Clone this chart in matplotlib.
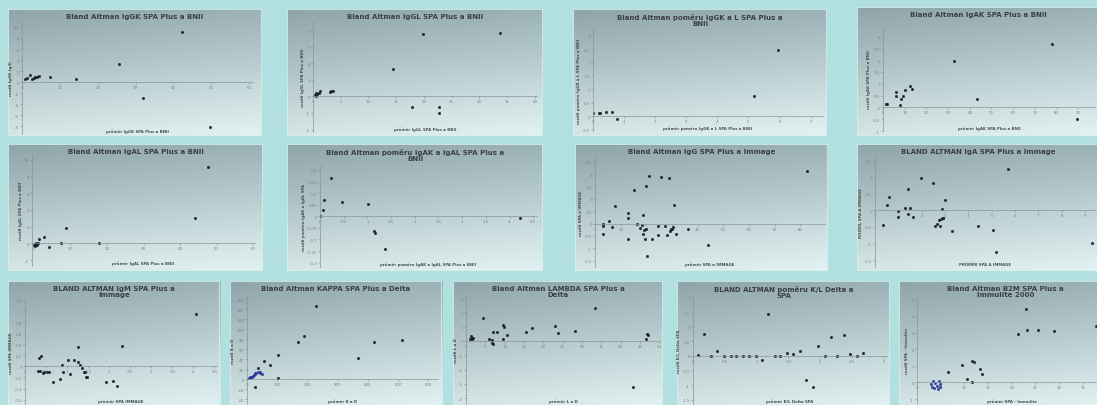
import numpy as np
import matplotlib.pyplot as plt

# DATA  (approximate)

# Row 1
iggk_x = [0.9, 1.3, 2.0, 2.6, 3.1, 3.5, 3.9, 4.6, 7.4, 14.3, 25.7, 32.0, 42.3, 49.6]
iggk_y = [0.6, 0.8, 1.3, 0.6, 0.8, 0.9, 1.0, 1.2, 1.0, 0.6, 3.3, -2.8, 9.1, -8.2]

iggl_x = [0.3, 0.5, 0.6, 0.8, 1.1, 1.3, 3.0, 3.3, 3.6, 14.5, 17.8, 19.8, 22.7, 22.7, 33.7]
iggl_y = [0.2, 0.36, 0.08, 0.24, 0.36, 0.64, 0.48, 0.64, 0.64, 3.3, -1.3, 7.5, -1.3, -2.0, 7.6]

iggkl_x = [0.0, 0.19, 0.22, 0.41, 0.62, 0.77, 5.18, 5.94]
iggkl_y = [0.12, 0.1, 0.12, 0.16, 0.16, -0.12, 0.75, 2.48]

igak_x = [1.5, 2.0, 5.8, 5.8, 7.7, 8.5, 9.2, 10.0, 12.6, 13.4, 32.6, 43.1, 78.0, 89.2]
igak_y = [0.13, 0.14, 0.47, 0.66, 0.1, 0.37, 0.5, 0.74, 0.92, 0.76, 1.95, 0.34, 2.7, -0.49]

# Row 2
igal_x = [0.0, 0.3, 0.45, 0.7, 0.9, 1.2, 1.4, 2.7, 4.1, 7.3, 8.9, 17.8, 44.1, 47.7]
igal_y = [-0.24, -0.12, -0.32, 0.0, -0.24, 0.08, 0.48, 0.8, -0.44, 0.08, 1.88, 0.0, 3.08, 9.2]

igakl_x = [0.0, 0.06, 0.08, 0.23, 0.47, 1.02, 1.15, 1.16, 1.38, 4.23]
igakl_y = [0.003, 0.029, 0.07, 0.166, 0.06, 0.051, -0.063, -0.073, -0.14, -0.009]

igg_x = [3.0, 3.0, 3.0, 5.6, 6.5, 7.8, 12.7, 13.0, 13.0, 15.2, 16.2, 17.5, 18.2, 18.6, 18.8,
         19.1, 19.5, 19.9, 19.9, 20.1, 21.2, 22.1, 24.7, 24.7, 25.7, 27.3, 27.9, 29.0, 29.2,
         29.5, 29.9, 30.5, 30.9, 31.4, 36.4, 44.0, 82.5]
igg_y = [0.0, -0.09, -0.43, 0.09, -0.14, 0.7, 0.24, -0.61, 0.41, 1.35, 0.0, -0.18, -0.07, -0.41, 0.36,
         -0.27, -0.61, 1.53, -0.23, -1.31, 1.92, -0.61, -0.09, -0.47, 1.89, -0.09, -0.47, 1.85, -0.31,
         -0.23, -0.2, -0.14, 0.74, -0.43, -0.23, -0.88, 2.14]

iga_x = [0.36, 0.5, 0.61, 1.0, 1.0, 1.29, 1.43, 1.43, 1.5, 1.64, 1.96, 2.47, 2.57, 2.67, 2.74,
         2.79, 2.81, 2.86, 2.9, 2.93, 3.0, 3.29, 4.43, 5.04, 5.19, 5.71, 9.31]
iga_y = [-0.43, 0.15, 0.4, -0.03, -0.2, 0.07, -0.1, 0.65, 0.07, -0.2, 0.97, 0.82, -0.47, -0.4, -0.3,
         -0.47, -0.25, 0.05, -0.23, -0.23, 0.3, -0.63, -0.47, -0.6, -1.25, 1.25, -0.98]

# Row 3
igm_x = [0.34, 0.37, 0.32, 0.36, 0.42, 0.46, 0.52, 0.58, 0.67, 0.82, 0.87, 0.91, 1.03, 1.07,
         1.17, 1.25, 1.27, 1.31, 1.35, 1.39, 1.43, 1.45, 1.48, 1.93, 2.1, 2.18, 2.31, 4.05]
igm_y = [0.15, 0.19, -0.09, -0.08, -0.12, -0.1, -0.11, -0.1, -0.28, -0.22, 0.02, -0.1, 0.12, -0.14,
         0.12, 0.35, 0.08, 0.03, -0.03, -0.1, -0.1, -0.19, -0.19, -0.28, -0.26, -0.35, 0.36, 0.94]

kappa_low_x = [5, 9, 11, 14, 16, 20, 22, 25, 27, 31, 35, 42, 44, 49]
kappa_low_y = [1.3, 2, 3.3, 4.7, 3.3, 6.7, 8.7, 10, 11.3, 12.7, 13.3, 11.3, 14.7, 10]
kappa_x = [38, 55, 77, 25, 104, 104, 170, 189, 227, 368, 420, 514]
kappa_y = [23.3, 36.7, 28.7, -16.7, 48, 1.3, 74.7, 86, 146.7, 43.3, 75.3, 78.7]

lambda_x = [1.0, 1.3, 1.5, 1.6, 1.9, 4.3, 6.0, 6.6, 6.8, 7.1, 6.9, 8.1, 9.5, 9.5, 9.8, 10.5,
            15.5, 17.0, 23.0, 23.9, 28.2, 33.4, 43.1, 46.7, 46.9, 47.2]
lambda_y = [0.12, 0.35, 0.23, 0.12, 0.23, 1.58, 0.12, 0.05, -0.12, -0.23, 0.65, 0.65, 1.09, 0.12, 0.98, 0.42,
            0.65, 0.88, 1.05, 0.56, 0.7, 2.28, -3.21, 0.12, 0.51, 0.42]

kl_x = [0.08, 0.18, 0.29, 0.38, 0.48, 0.59, 0.68, 0.78, 0.88, 0.99, 1.08, 1.18, 1.29, 1.37,
        1.48, 1.58, 1.68, 1.78, 1.88, 1.97, 2.08, 2.17, 2.27, 2.37, 2.47, 2.58, 2.67]
kl_y = [0.02, 0.74, 0.0, 0.15, 0.0, 0.0, 0.0, 0.0, 0.0, 0.0, -0.15, 1.44, 0.0, 0.0,
        0.09, 0.06, 0.15, -0.83, -1.08, 0.34, 0.0, 0.66, 0.0, 0.7, 0.06, 0.0, 0.11]

b2m_low_x = [2.96, 3.38, 3.87, 4.23, 4.58, 4.93, 3.66, 4.37, 3.17, 4.79]
b2m_low_y = [-0.1, 0.06, -0.06, -0.2, 0.06, -0.1, -0.34, -0.4, -0.26, -0.3]
b2m_x = [6.5, 9.5, 10.6, 11.6, 11.6, 12.0, 13.4, 13.7, 21.3, 23.1, 23.2, 25.5, 29.0, 37.7]
b2m_y = [0.6, 1.06, 0.2, 0.0, 1.26, 1.2, 0.8, 0.5, 2.9, 4.4, 3.14, 3.14, 3.1, 3.4]

# PANELS: title, x label, y label, series, limits, ticks, panel box and plot box (pixels)
panels = [
    dict(title="Bland Altman IgGK SPA Plus a BNII", xl="průměr IgGK SPA Plus a BNII", yl="rozdíl IgGK (g/l)",
         series=[(iggk_x, iggk_y)], xlim=(0, 61), ylim=(-9.4, 10.9),
         xt=np.arange(0, 61, 10), yt=np.arange(-8, 11, 2),
         box=(8, 10, 262, 137), plot=(22, 23, 253, 135)),
    dict(title="Bland Altman IgGL SPA Plus a BNII", xl="průměr IgGL SPA Plus a BNII", yl="rozdíl IgGL SPA Plus a BNII",
         series=[(iggl_x, iggl_y)], xlim=(0, 40.4), ylim=(-4.3, 9.1),
         xt=np.arange(0, 41, 5), yt=np.arange(-4, 9, 2),
         box=(287, 10, 543, 137), plot=(313, 22, 537, 133)),
    dict(title="Bland Altman poměru IgGK a L SPA Plus a\nBNII", xl="průměr poměru IgGK a L SPA Plus a BNII",
         yl="rozdíl poměru IgGK a L SPA Plus a BNII",
         series=[(iggkl_x, iggkl_y)], xlim=(0, 7.4), ylim=(-0.56, 3.25),
         xt=np.arange(0, 8, 1), yt=np.arange(-0.5, 3.1, 0.5),
         box=(573, 10, 827, 137), plot=(593, 30, 823, 132)),
    dict(title="Bland Altman IgAK SPA Plus a BNII", xl="průměr IgAK SPA Plus a BNII", yl="rozdíl IgAK SPA Plus a BNII",
         series=[(igak_x, igak_y)], xlim=(0, 97.7), ylim=(-1.0, 3.4),
         xt=np.arange(0, 91, 10), yt=np.arange(-1, 3.1, 0.5),
         box=(857, 8, 1100, 137), plot=(883, 28, 1095, 132)),
    dict(title="Bland Altman IgAL SPA Plus a BNII", xl="průměr IgAL SPA Plus a BNII", yl="rozdíl IgAL SPA Plus a BNII",
         series=[(igal_x, igal_y)], xlim=(-0.5, 60.5), ylim=(-2.7, 10.7),
         xt=np.arange(0, 61, 10), yt=np.arange(-2, 11, 2),
         box=(8, 145, 263, 272), plot=(32, 155, 255, 267)),
    dict(title="Bland Altman poměru IgAK a IgAL SPA Plus a\nBNII", xl="průměr poměru IgAK a IgAL SPA Plus a BNII",
         yl="rozdíl poměru IgAK a IgAL SPA",
         series=[(igakl_x, igakl_y)], xlim=(0, 4.58), ylim=(-0.219, 0.217),
         xt=np.arange(0, 4.6, 0.5), yt=np.arange(-0.2, 0.21, 0.05),
         box=(287, 145, 543, 272), plot=(320, 167, 537, 268)),
    dict(title="Bland Altman IgG SPA Plus a Immage", xl="průměr SPA a IMMAGE", yl="rozdíl SPA a IMMAGE",
         series=[(igg_x, igg_y)], xlim=(0, 89.6), ylim=(-1.76, 2.7),
         xt=np.arange(0, 90, 10), yt=np.arange(-1.5, 2.6, 0.5),
         box=(575, 145, 828, 272), plot=(595, 158, 825, 268)),
    dict(title="BLAND ALTMAN IgA SPA Plus a Immage", xl="PRŮMĚR SPA A IMMAGE", yl="ROZDÍL SPA A IMMAGE",
         series=[(iga_x, iga_y)], xlim=(0, 9.43), ylim=(-1.7, 1.6),
         xt=np.arange(0, 10, 1), yt=np.arange(-1.5, 1.6, 0.5),
         box=(857, 145, 1100, 272), plot=(875, 158, 1095, 268)),
    dict(title="BLAND ALTMAN IgM SPA Plus a\nImmage", xl="průměr SPA IMMAGE", yl="rozdíl SPA IMMAGE",
         series=[(igm_x, igm_y)], xlim=(0, 4.56), ylim=(-0.68, 1.2),
         xt=np.arange(0, 4.6, 0.5), yt=np.arange(-0.6, 1.21, 0.2),
         box=(8, 282, 220, 408), plot=(25, 301, 217, 405)),
    dict(title="Bland Altman KAPPA SPA Plus a Delta", xl="průměr K a D", yl="rozdíl K a D",
         series=[(kappa_low_x, kappa_low_y), (kappa_x, kappa_y)], xlim=(0, 632), ylim=(-50, 167),
         xt=np.arange(0, 601, 100), yt=np.arange(-40, 161, 20),
         box=(230, 282, 442, 408), plot=(247, 297, 438, 405)),
    dict(title="Bland Altman LAMBDA SPA Plus a\nDelta", xl="průměr L a D", yl="rozdíl L a D",
         series=[(lambda_x, lambda_y)], xlim=(0, 50.2), ylim=(-4.4, 3.14),
         xt=np.arange(0, 51, 5), yt=np.arange(-4, 3.1, 1),
         box=(453, 282, 663, 408), plot=(466, 297, 660, 405)),
    dict(title="BLAND ALTMAN poměru K/L Delta a\nSPA", xl="průměr K/L Delta SPA", yl="rozdíl K/L Delta SPA",
         series=[(kl_x, kl_y)], xlim=(0, 3.05), ylim=(-1.65, 2.05),
         xt=np.arange(0, 3.1, 0.5), yt=np.arange(-1.5, 2.1, 0.5),
         box=(677, 282, 890, 408), plot=(693, 297, 887, 405)),
    dict(title="Bland Altman B2M SPA Plus a\nImmulite 2000", xl="průměr SPA - Immulite", yl="rozdíl SPA - Immulite",
         series=[(b2m_low_x, b2m_low_y), (b2m_x, b2m_y)], xlim=(0, 40.1), ylim=(-1.3, 5.2),
         xt=np.arange(0, 36, 5), yt=np.arange(-1, 5.1, 1),
         box=(899, 282, 1112, 408), plot=(917, 297, 1107, 405)),
]

W, H = 1097, 406
fig = plt.figure(figsize=(W / 100, H / 100), dpi=100)
fig.patch.set_facecolor('#b2e0e0')


def frac(x0, y0, x1, y1):
    return [x0 / W, 1 - y1 / H, (x1 - x0) / W, (y1 - y0) / H]


def fmt(v):
    s = ('%.2f' % v).rstrip('0').rstrip('.')
    return '0' if s in ('-0', '') else s


# vertical gradient for the chart areas, darker grey-teal on top
top = np.array([0x8e, 0xa5, 0xaa]) / 255
bottom = np.array([0xd6, 0xe6, 0xe6]) / 255
t = np.linspace(0, 1, 64)[:, None, None]
h = np.linspace(0, 1, 64)[None, :, None]
grad = top * (1 - t) + bottom * t
grad = np.clip(grad + 0.05 * h, 0, 1)

dark = '#1c1f2a'
blue = '#2a3c9a'

for p in panels:
    bg = fig.add_axes(frac(*p['box']))
    bg.imshow(grad, aspect='auto', extent=(0, 1, 0, 1), interpolation='bilinear')
    bg.set_axis_off()
    bg.add_patch(plt.Rectangle((0, 0), 1, 1, fill=False, ec='#d4eeee', lw=1.2, transform=bg.transAxes))

    x0, y0, x1, y1 = p['box']
    fig.text(((x0 + x1) / 2) / W, 1 - (y0 + 4) / H, p['title'], ha='center', va='top',
             fontsize=5, fontweight='bold', color='#3b3f44', linespacing=0.95)

    ax = fig.add_axes(frac(*p['plot']))
    ax.patch.set_alpha(0)
    for i, (xs, ys) in enumerate(p['series']):
        c = blue if (len(p['series']) > 1 and i == 0) else dark
        ax.plot(xs, ys, ls='none', marker='o', ms=1.8, mfc=c, mec=c, mew=0.3)

    ax.set_xlim(*p['xlim'])
    ax.set_ylim(*p['ylim'])
    ax.set_xticks(p['xt'])
    ax.set_yticks(p['yt'])
    ax.set_xticklabels([fmt(v) for v in p['xt']])
    ax.set_yticklabels([fmt(v) for v in p['yt']])
    ax.tick_params(labelsize=2.8, colors='#7a8387', length=1.2, width=0.4, pad=1)
    ax.spines['top'].set_visible(False)
    ax.spines['right'].set_visible(False)
    ax.spines['bottom'].set_position(('data', 0))
    ax.spines['bottom'].set_color('#8a9599')
    ax.spines['bottom'].set_linewidth(0.5)
    ax.spines['left'].set_color('#8a9599')
    ax.spines['left'].set_linewidth(0.5)
    ax.text(0.5, 0.01, p['xl'], transform=ax.transAxes, ha='center', va='bottom',
            fontsize=2.8, fontweight='bold', color='#4a4f54')
    ax.set_ylabel(p['yl'], fontsize=2.8, fontweight='bold', color='#4a4f54', labelpad=1)

fig.savefig('out.png', dpi=100, facecolor=fig.get_facecolor())
